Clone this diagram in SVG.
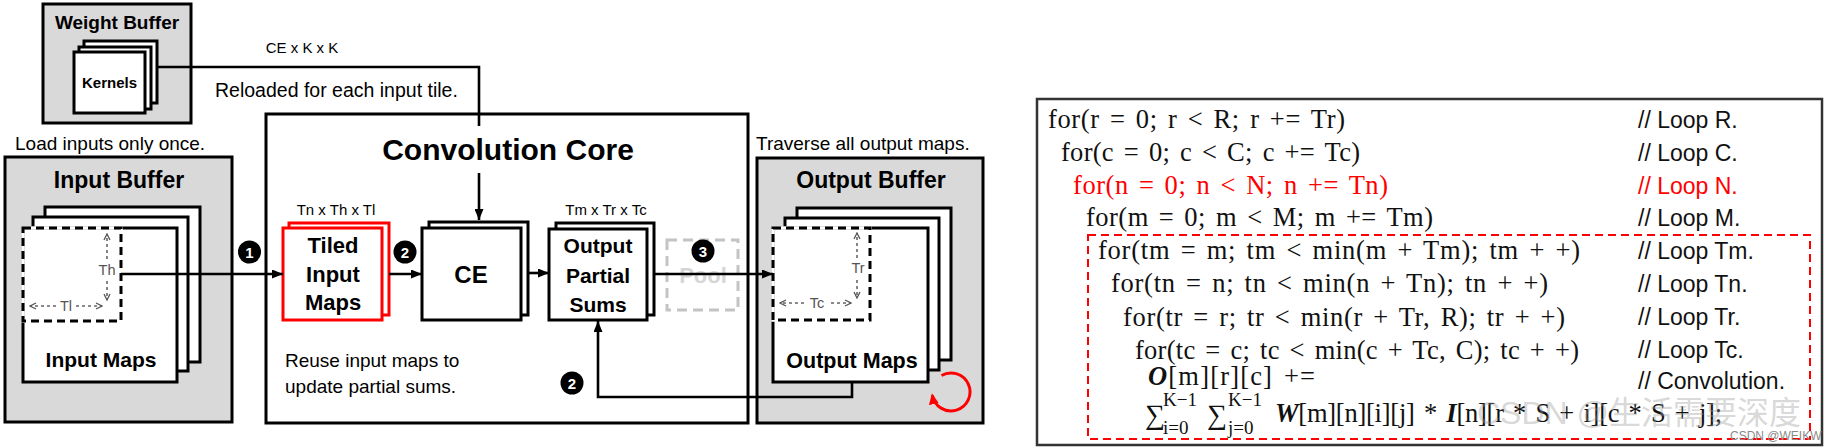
<svg xmlns="http://www.w3.org/2000/svg" width="1826" height="448" viewBox="0 0 1826 448">
<style>
.bg{fill:#fff}
.buf{fill:#d9d9d9;stroke:#000;stroke-width:3}
.sheet{fill:#fff;stroke:#000;stroke-width:3}
.rsheet{fill:#fff;stroke:#ff0000;stroke-width:3}
.tile{fill:none;stroke:#000;stroke-width:3;stroke-dasharray:8 5}
.tilebg{fill:none;stroke:#fff;stroke-width:3.5}
.dot{fill:none;stroke:#666;stroke-width:1.6;stroke-dasharray:3 3}
.conn{fill:none;stroke:#000;stroke-width:2.6}
.sans{font-family:"Liberation Sans",Arial,sans-serif}
.b{font-weight:bold}
.t19{font-size:19px}
.lbl{font-size:15px}
.dim{font-size:14.5px;fill:#555}
.mid{text-anchor:middle}
.num{font-family:"Liberation Sans",Arial,sans-serif;font-weight:bold;font-size:15px;fill:#fff;text-anchor:middle}
.code{font-family:"Liberation Serif","DejaVu Serif",serif;font-size:26.5px;word-spacing:3px;fill:#111}
.math{font-family:"Liberation Serif","DejaVu Serif",serif;fill:#111}
.cm{font-family:"Liberation Sans",Arial,sans-serif;font-size:23px;fill:#111}
.bi{font-weight:bold;font-style:italic}
.red{fill:#ff0000}
</style>
<defs>
<marker id="ah" viewBox="0 0 11 9" refX="11" refY="4.5" markerWidth="11" markerHeight="9" markerUnits="userSpaceOnUse" orient="auto"><path d="M0,0 L11,4.5 L0,9 z" fill="#000"/></marker>
<marker id="ahr" viewBox="0 0 11 10" refX="9" refY="5" markerWidth="11" markerHeight="10" markerUnits="userSpaceOnUse" orient="auto"><path d="M0,0 L11,5 L0,10 z" fill="#ff0000"/></marker>
<marker id="chev" viewBox="0 0 8 8" refX="7" refY="4" markerWidth="8" markerHeight="8" markerUnits="userSpaceOnUse" orient="auto"><path d="M1,1 L7,4 L1,7" fill="none" stroke="#555" stroke-width="1.3"/></marker>
</defs>
<rect class="bg" x="0" y="0" width="1826" height="448"/>

<g id="weight-buffer">
<rect class="buf" x="43" y="4" width="148" height="119"/>
<text class="sans b mid" x="117" y="29" font-size="19">Weight Buffer</text>
<rect class="sheet" x="84" y="41" width="73" height="62"/>
<rect class="sheet" x="79" y="47" width="72" height="62"/>
<rect class="sheet" x="74" y="52" width="71" height="61"/>
<text class="sans b mid" x="109.5" y="88" font-size="15">Kernels</text>
</g>

<g id="labels-top">
<text class="sans mid lbl" x="302" y="53">CE x K x K</text>
<text class="sans" x="215" y="97" font-size="19.5">Reloaded for each input tile.</text>
<text class="sans t19" x="15" y="150">Load inputs only once.</text>
<text class="sans t19" x="756" y="150">Traverse all output maps.</text>
</g>

<g id="input-buffer">
<rect class="buf" x="5" y="157" width="227" height="265"/>
<text class="sans b mid" x="119" y="188" font-size="23">Input Buffer</text>
<rect class="sheet" x="45" y="207" width="155" height="155"/>
<rect class="sheet" x="33" y="217" width="155" height="154"/>
<rect class="sheet" x="23" y="228" width="154" height="154"/>
<rect class="tilebg" x="23" y="228" width="98" height="93"/>
<rect class="tile" x="23" y="228" width="98" height="93"/>
<path class="dot" d="M107,259 V234" marker-end="url(#chev)"/>
<path class="dot" d="M107,281 V300" marker-end="url(#chev)"/>
<text class="sans dim mid" x="107" y="275">Th</text>
<path class="dot" d="M56,306 H30" marker-end="url(#chev)"/>
<path class="dot" d="M76,306 H102" marker-end="url(#chev)"/>
<text class="sans dim mid" x="66" y="311">Tl</text>
<text class="sans b mid" x="101" y="367" font-size="21">Input Maps</text>
</g>

<g id="convolution-core">
<rect class="sheet" x="266" y="114" width="482" height="309"/>
<text class="sans b mid" x="508" y="160" font-size="30">Convolution Core</text>
<text class="sans t19" x="285" y="367">Reuse input maps to</text>
<text class="sans t19" x="285" y="393">update partial sums.</text>
</g>

<g id="tiled-input-maps">
<text class="sans mid lbl" x="336" y="215">Tn x Th x Tl</text>
<rect class="rsheet" x="289" y="223" width="100" height="92"/>
<rect class="rsheet" x="283" y="228" width="99" height="92"/>
<text class="sans b mid" x="333" y="253" font-size="22">Tiled</text>
<text class="sans b mid" x="333" y="282" font-size="22">Input</text>
<text class="sans b mid" x="333" y="310" font-size="22">Maps</text>
</g>

<g id="ce">
<rect class="sheet" x="429" y="222" width="99" height="93"/>
<rect class="sheet" x="422" y="228" width="99" height="92"/>
<text class="sans b mid" x="471" y="283" font-size="24">CE</text>
</g>

<g id="output-partial-sums">
<text class="sans mid lbl" x="606" y="215">Tm x Tr x Tc</text>
<rect class="sheet" x="556" y="223" width="98" height="92"/>
<rect class="sheet" x="549" y="229" width="98" height="91"/>
<text class="sans b mid" x="598" y="253" font-size="21">Output</text>
<text class="sans b mid" x="598" y="283" font-size="21">Partial</text>
<text class="sans b mid" x="598" y="312" font-size="21">Sums</text>
</g>

<g id="pool">
<rect x="667" y="240" width="71" height="70" fill="none" stroke="#c4c4c4" stroke-width="3" stroke-dasharray="10 6"/>
<text class="sans b mid" x="703" y="283" font-size="22" fill="#d6d6d6">Pool</text>
</g>

<g id="output-buffer">
<rect class="buf" x="757" y="158" width="226" height="265"/>
<text class="sans b mid" x="871" y="188" font-size="23">Output Buffer</text>
<rect class="sheet" x="797" y="208" width="154" height="152"/>
<rect class="sheet" x="785" y="218" width="154" height="152"/>
<rect class="sheet" x="773" y="228" width="155" height="154"/>
<rect class="tilebg" x="773" y="228" width="97" height="92"/>
<rect class="tile" x="773" y="228" width="97" height="92"/>
<path class="dot" d="M857,258 V233" marker-end="url(#chev)"/>
<path class="dot" d="M857,280 V298" marker-end="url(#chev)"/>
<text class="sans dim mid" x="858" y="273">Tr</text>
<path class="dot" d="M804,303 H780" marker-end="url(#chev)"/>
<path class="dot" d="M831,303 H851" marker-end="url(#chev)"/>
<text class="sans dim mid" x="817" y="308">Tc</text>
<text class="sans b mid" x="852" y="368" font-size="21.5">Output Maps</text>
<path d="M941.5,375.5 A19,19 0 1 1 932.3,395.3" fill="none" stroke="#ff0000" stroke-width="3" marker-end="url(#ahr)"/>
</g>

<g id="connectors">
<path class="conn" d="M157,67 H479 V126"/>
<path class="conn" d="M479,173 V220" marker-end="url(#ah)"/>
<path class="conn" d="M121,274 H283" marker-end="url(#ah)"/>
<path class="conn" d="M389,274 H422" marker-end="url(#ah)"/>
<path class="conn" d="M528,273 H549" marker-end="url(#ah)"/>
<path class="conn" d="M654,274 H773" marker-end="url(#ah)"/>
<path class="conn" d="M852,382 V397 H598 V321" marker-end="url(#ah)"/>
</g>

<g id="step-markers">
<circle cx="249.5" cy="252" r="11.5" fill="#000"/><text class="num" x="249.5" y="257.5">1</text>
<circle cx="405" cy="252" r="11.5" fill="#000"/><text class="num" x="405" y="257.5">2</text>
<circle cx="703" cy="251" r="11.5" fill="#000"/><text class="num" x="703" y="256.5">3</text>
<circle cx="572" cy="383" r="11.5" fill="#000"/><text class="num" x="572" y="388.5">2</text>
</g>

<g id="loop-nest">
<rect x="1037" y="99" width="785" height="346" fill="#fff" stroke="#333" stroke-width="2.5"/>
<rect x="1088" y="235" width="722" height="204" fill="none" stroke="#ff0000" stroke-width="2" stroke-dasharray="8 5"/>
<text class="code" x="1048" y="128" textLength="297" lengthAdjust="spacing">for(r = 0; r &lt; R; r += Tr)</text>
<text class="code" x="1061" y="161" textLength="299" lengthAdjust="spacing">for(c = 0; c &lt; C; c += Tc)</text>
<text class="code red" x="1073" y="194" textLength="315" lengthAdjust="spacing">for(n = 0; n &lt; N; n += Tn)</text>
<text class="code" x="1086" y="226" textLength="347" lengthAdjust="spacing">for(m = 0; m &lt; M; m += Tm)</text>
<text class="code" x="1098" y="259" textLength="482" lengthAdjust="spacing">for(tm = m; tm &lt; min(m + Tm); tm + +)</text>
<text class="code" x="1111" y="292" textLength="437" lengthAdjust="spacing">for(tn = n; tn &lt; min(n + Tn); tn + +)</text>
<text class="code" x="1123" y="326" textLength="442" lengthAdjust="spacing">for(tr = r; tr &lt; min(r + Tr, R); tr + +)</text>
<text class="code" x="1135" y="359" textLength="444" lengthAdjust="spacing">for(tc = c; tc &lt; min(c + Tc, C); tc + +)</text>
<text class="code" x="1148" y="385" textLength="167" lengthAdjust="spacing"><tspan class="bi">O</tspan>[m][r][c] +=</text>
<text class="math" style="font-size:28px" x="1145" y="424">∑</text>
<text class="math" style="font-size:19px" x="1163" y="406">K−1</text>
<text class="math" style="font-size:19px" x="1163" y="434">i=0</text>
<text class="math" style="font-size:28px" x="1207" y="424">∑</text>
<text class="math" style="font-size:19px" x="1228" y="406">K−1</text>
<text class="math" style="font-size:19px" x="1228" y="434">j=0</text>
<text class="code" x="1275" y="422" textLength="447" lengthAdjust="spacing"><tspan class="bi">W</tspan>[m][n][i][j] * <tspan class="bi">I</tspan>[n][r * S + i][c * S + j];</text>
<text class="cm" x="1638" y="128">// Loop R.</text>
<text class="cm" x="1638" y="161">// Loop C.</text>
<text class="cm red" x="1638" y="194">// Loop N.</text>
<text class="cm" x="1638" y="226">// Loop M.</text>
<text class="cm" x="1638" y="259">// Loop Tm.</text>
<text class="cm" x="1638" y="292">// Loop Tn.</text>
<text class="cm" x="1638" y="325">// Loop Tr.</text>
<text class="cm" x="1638" y="358">// Loop Tc.</text>
<text class="cm" x="1638" y="389">// Convolution.</text>
</g>

<g id="watermark">
<text x="1477" y="424" font-family="'Liberation Sans','Noto Sans CJK SC',sans-serif" font-size="32" fill="#9a9a9a" fill-opacity="0.4">CSDN @生活需要深度</text>
<text x="1730" y="440" font-family="'Liberation Sans',sans-serif" font-size="12" fill="#8a8a8a">CSDN @WEIKW</text>
</g>
</svg>
